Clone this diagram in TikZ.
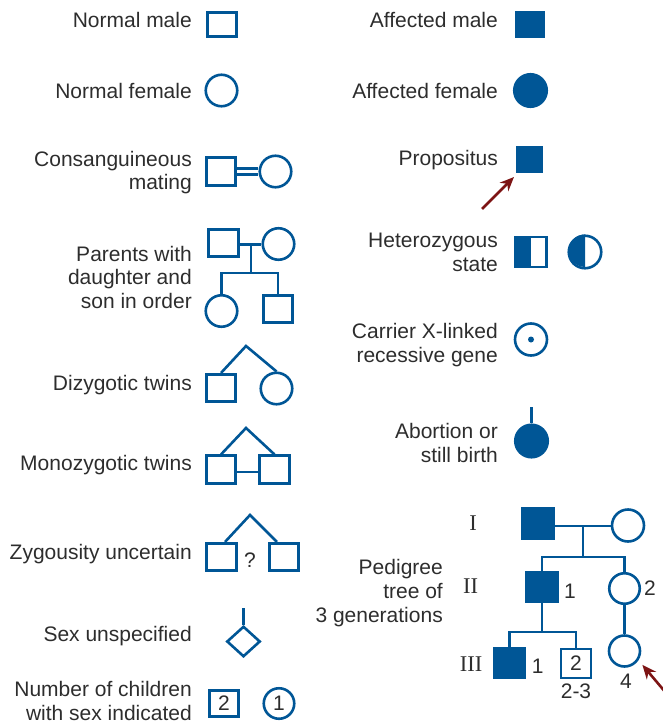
\documentclass[tikz,border=0pt]{standalone}
\usepackage{fontspec}
\setmainfont{Liberation Sans}
\newfontfamily\romfont{Liberation Serif}
\usetikzlibrary{arrows.meta,shapes.geometric,calc}
\definecolor{pblue}{RGB}{0,86,150}
\definecolor{tgray}{RGB}{45,45,45}
\definecolor{pred}{RGB}{125,20,20}
\begin{document}
\begin{tikzpicture}[x=1pt,y=-1pt,
  lbl/.style={anchor=base east, align=right, inner sep=0pt, text=tgray, font=\fontsize{21}{23.7}\selectfont},
  num/.style={anchor=base, inner sep=0pt, text=tgray, font=\fontsize{21}{23.7}\selectfont},
  rom/.style={anchor=base, inner sep=0pt, text=tgray, font=\romfont\fontsize{22.5}{25}\selectfont},
  msq/.style={rectangle, draw=pblue, line width=2.6pt, minimum width=29.5pt, minimum height=27.5pt, inner sep=0pt, text=tgray, font=\fontsize{21}{23.7}\selectfont},
  fem/.style={circle, draw=pblue, line width=2.6pt, minimum size=31.5pt, inner sep=0pt, text=tgray, font=\fontsize{21}{23.7}\selectfont},
  affm/.style={msq, fill=pblue},
  afff/.style={fem, fill=pblue},
  pline/.style={draw=pblue, line width=2.6pt},
  redarrow/.style={draw=pred, line width=2.6pt, -{Stealth[length=14pt,width=12pt]}}
]
\useasboundingbox (0,0) rectangle (662,723);

% ---------- left column ----------
\node[lbl] (l1) at (192,27.5) {Normal male};
\node[msq, minimum width=28.5pt, minimum height=24.5pt] (nm) at (222,24.5) {};

\node[lbl] (l2) at (192,98.3) {Normal female};
\node[fem] (nf) at (221.5,90.5) {};

\node[lbl] (l3) at (192,189.7) {Consanguineous\\mating};
\node[msq] (cm) at (221,171.5) {};
\node[fem] (cf) at (275.5,171.5) {};
\draw[pline] ([yshift=3pt]cm.east) -- ([yshift=3pt]cf.west);
\draw[pline] ([yshift=-3pt]cm.east) -- ([yshift=-3pt]cf.west);

\node[lbl] (l4) at (192,308.4) {Parents with\\daughter and\\son in order};
\node[msq] (pf) at (223.5,243) {};
\node[fem] (pm) at (278.5,244) {};
\coordinate (pc) at (251,244.5);
\coordinate (ps) at (251,273);
\node[fem] (pd) at (221.5,311) {};
\node[msq] (pn) at (278,309) {};
\draw[pline] (pf.east |- pc) -- (pm.west |- pc);
\draw[pline] (pc) -- (ps);
\draw[pline] (pd.north) -- (pd.north |- ps) -- (pn.north |- ps) -- (pn.north);

\node[lbl] (l5) at (192,390) {Dizygotic twins};
\coordinate (dz) at (246,346);
\node[msq] (dzm) at (221,388) {};
\node[fem] (dzf) at (276.5,388.5) {};
\draw[pline] (dzm.north) -- (dz) -- (dzf.north);

\node[lbl] (l6) at (192,470.7) {Monozygotic twins};
\coordinate (mz) at (246,428);
\node[msq] (mz1) at (221,469.5) {};
\node[msq] (mz2) at (274.5,469.5) {};
\coordinate (mzh) at (246,472);
\draw[pline] (mz1.north) -- (mz) -- (mz2.north);
\draw[pline] (mz1.east |- mzh) -- (mz2.west |- mzh);

\node[lbl] (l7) at (192,559) {Zygousity uncertain};
\coordinate (zu) at (250,515);
\node[msq] (zu1) at (221.5,557) {};
\node[msq] (zu2) at (284,557) {};
\draw[pline] ([xshift=3.5pt]zu1.north) -- (zu) -- ([xshift=-7pt]zu2.north);
\node[num] (zq) at (250,567) {?};

\node[lbl] (l8) at (192,641.7) {Sex unspecified};
\node[diamond, draw=pblue, line width=2.6pt, minimum width=33.5pt, minimum height=30.5pt, inner sep=0pt] (su) at (243.5,641.5) {};
\coordinate (sut) at (243.5,608);
\draw[pline] (su.north) -- (sut);

\node[lbl] (l9) at (192,720) {Number of children\\with sex indicated};
\node[msq, minimum height=26.5pt] (nc1) at (224,703.5) {2};
\node[fem, minimum size=30.5pt] (nc2) at (279,703.5) {1};

% ---------- right column ----------
\node[lbl] (r1) at (498,27.3) {Affected male};
\node[affm, minimum width=28.2pt, minimum height=24.5pt] (am) at (530,24.5) {};

\node[lbl] (r2) at (498,98.3) {Affected female};
\node[afff, minimum size=32.5pt] (af) at (530.5,90.5) {};

\node[lbl] (r3) at (498,165.7) {Propositus};
\node[affm, minimum width=24.5pt, minimum height=24.5pt] (pr) at (529.5,159.5) {};
\coordinate (pra) at (482,209);
\draw[redarrow] (pra) -- ([shift={(-2pt,-4pt)}]pr.south west);

\node[lbl] (r4) at (498,271.5) {Heterozygous\\state};
\node[msq, minimum width=30.5pt, minimum height=30pt] (hs) at (531,252) {};
\fill[pblue] (hs.north west) rectangle (hs.south);
\node[fem, minimum size=32.5pt] (hc) at (585,252) {};
\fill[pblue] (hc.north) arc[start angle=90, end angle=270, radius=16.25pt] -- cycle;

\node[lbl] (r5) at (498,362) {Carrier X-linked\\recessive gene};
\node[fem, minimum size=32pt] (cx) at (531,339.5) {};
\fill[pblue] (cx.center) circle[radius=3pt];

\node[lbl] (r6) at (498,462.3) {Abortion or\\still birth};
\node[afff, minimum size=32.5pt] (ab) at (531.5,441) {};
\coordinate (abt) at (531.5,407);
\draw[pline] (ab.north) -- (abt);

% ---------- pedigree ----------
\node[lbl] (r7) at (443,622) {Pedigree\\tree of\\3 generations};
\node[rom] (gI) at (473,530) {I};
\node[rom] (gII) at (470.5,593) {II};
\node[rom] (gIII) at (471,671.7) {III};

\node[affm, minimum width=31.5pt, minimum height=30.5pt] (g1m) at (538,523.5) {};
\node[fem, minimum size=32pt] (g1f) at (628,525.5) {};
\coordinate (g1c) at (583,526);
\coordinate (g1s) at (583,557);
\draw[pline] (g1m.east |- g1c) -- (g1f.west |- g1c);
\draw[pline] (g1c) -- (g1s);

\node[affm, minimum width=31.5pt, minimum height=29.5pt] (g2m) at (542,587) {};
\node[fem, minimum size=30.5pt] (g2f) at (624.5,588.5) {};
\draw[pline] (g2m.north) -- (g2m.north |- g1s) -- (g2f.north |- g1s) -- (g2f.north);
\node[num] (n21) at (570,598) {1};
\node[num] (n22) at (650,595) {2};

\node[fem, minimum size=31pt] (g3f) at (624.5,651) {};
\draw[pline] (g2f.south) -- (g3f.north);
\node[num] (n34) at (626,688) {4};

\coordinate (g2s) at (542,632);
\node[affm, minimum width=30.5pt, minimum height=29.5pt] (g3m) at (509.5,663) {};
\node[msq, line width=2.2pt, minimum width=29.5pt, minimum height=28.5pt] (g3s) at (576,663.5) {2};
\draw[pline] (g2m.south) -- (g2s);
\draw[pline] (g3m.north) -- (g3m.north |- g2s) -- (g3s.north |- g2s) -- (g3s.north);
\node[num] (n31) at (537.7,673) {1};
\node[num] (n323) at (576,698) {2-3};

\coordinate (pa2) at (672,700);
\draw[redarrow] (pa2) -- ([shift={(6pt,-2pt)}]g3f.south east);
\end{tikzpicture}
\end{document}
